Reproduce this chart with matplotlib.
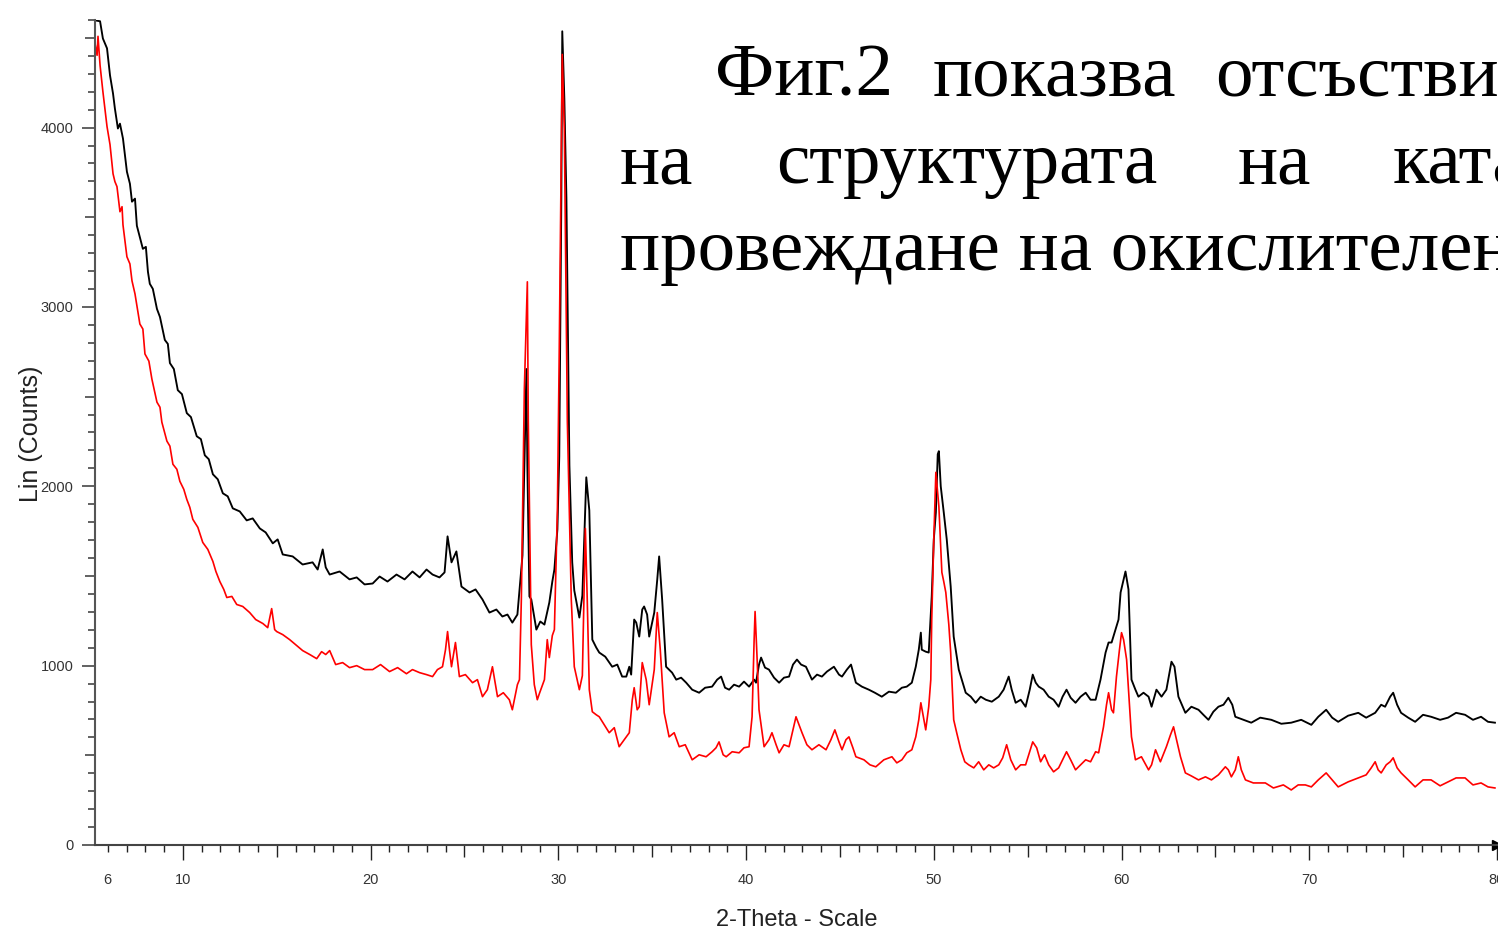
import matplotlib.pyplot as plt
import numpy as np

# Black pattern (2-Theta, counts)
black_x = [5.32, 5.59, 5.74, 5.96, 6.12, 6.28, 6.38, 6.54, 6.65, 6.81, 7.02, 7.18, 7.29, 7.45, 7.55,
           7.87, 8.03, 8.14, 8.24, 8.40, 8.62, 8.78, 9.04, 9.20, 9.31, 9.52, 9.73, 9.95, 10.21, 10.43,
           10.74, 10.96, 11.17, 11.38, 11.60, 11.86, 12.13, 12.39, 12.66, 13.03, 13.40, 13.72, 14.10,
           14.41, 14.79, 15.05, 15.32, 15.85, 16.38, 16.91, 17.18, 17.45, 17.61, 17.82, 18.35, 18.88,
           19.26, 19.68, 20.11, 20.48, 20.90, 21.38, 21.81, 22.23, 22.61, 22.98, 23.30, 23.67, 23.94,
           24.10, 24.31, 24.57, 24.84, 25.27, 25.59, 25.96, 26.33, 26.70, 27.02, 27.29, 27.55, 27.82,
           28.09, 28.24, 28.30, 28.35, 28.46, 28.56, 28.83, 29.04, 29.26, 29.52, 29.68, 29.79, 29.95,
           30.05, 30.16, 30.21, 30.32, 30.43, 30.59, 30.74, 30.85, 31.12, 31.28, 31.38, 31.49, 31.65,
           31.81, 32.02, 32.18, 32.50, 32.87, 33.14, 33.40, 33.62, 33.78, 33.88, 34.04, 34.15, 34.31,
           34.47, 34.57, 34.73, 34.84, 35.11, 35.27, 35.37, 35.53, 35.74, 36.06, 36.28, 36.54, 36.81,
           37.13, 37.50, 37.82, 38.19, 38.46, 38.67, 38.88, 39.10, 39.36, 39.63, 39.89, 40.16, 40.43,
           40.53, 40.69, 40.80, 41.01, 41.22, 41.49, 41.76, 42.02, 42.29, 42.50, 42.71, 42.93, 43.19,
           43.51, 43.78, 44.04, 44.31, 44.68, 44.95, 45.11, 45.37, 45.59, 45.85, 46.17, 46.54, 46.86,
           47.23, 47.61, 47.98, 48.30, 48.56, 48.83, 49.04, 49.20, 49.31, 49.36, 49.57, 49.73, 49.89,
           50.00, 50.11, 50.21, 50.27, 50.37, 50.53, 50.69, 50.90, 51.06, 51.33, 51.49, 51.70, 51.97,
           52.23, 52.50, 52.77, 53.09, 53.46, 53.72, 53.99, 54.15, 54.36, 54.63, 54.89, 55.11, 55.27,
           55.43, 55.59, 55.85, 56.12, 56.38, 56.65, 56.86, 57.07, 57.29, 57.55, 57.82, 58.09, 58.35,
           58.62, 58.88, 59.15, 59.31, 59.47, 59.68, 59.84, 59.95, 60.11, 60.21, 60.37, 60.53, 60.74,
           60.90, 61.17, 61.44, 61.60, 61.86, 62.13, 62.39, 62.66, 62.82, 63.03, 63.40, 63.72, 64.10,
           64.36, 64.63, 64.89, 65.16, 65.43, 65.69, 65.90, 66.06, 66.49, 66.91, 67.39, 67.98, 68.51,
           69.04, 69.57, 70.11, 70.48, 70.90, 71.22, 71.54, 72.07, 72.61, 73.03, 73.51, 73.83, 74.04,
           74.31, 74.47, 74.68, 74.89, 75.27, 75.64, 76.06, 76.49, 76.97, 77.39, 77.82, 78.30, 78.72,
           79.15, 79.52, 79.89]
black_y = [4598, 4593, 4497, 4442, 4291, 4190, 4106, 3995, 4022, 3939, 3754, 3687, 3587, 3604, 3453,
           3324, 3335, 3196, 3129, 3101, 2989, 2944, 2816, 2794, 2687, 2654, 2536, 2514, 2408, 2386,
           2279, 2263, 2173, 2151, 2067, 2039, 1961, 1944, 1877, 1860, 1810, 1821, 1765,
           1743, 1682, 1704, 1620, 1609, 1564, 1576, 1536, 1648, 1548, 1508, 1525, 1481,
           1492, 1453, 1458, 1497, 1469, 1508, 1481, 1525, 1492, 1536, 1508, 1492, 1520,
           1721, 1576, 1637, 1441, 1408, 1425, 1369, 1296, 1313, 1274, 1285, 1240, 1285,
           1615, 2363, 2654, 2117, 1386, 1369, 1201, 1246, 1229, 1352, 1469, 1536, 1760,
           2168, 3604, 4537, 4162, 3609, 2117, 1576, 1419, 1268, 1391, 1704, 2050, 1866,
           1145, 1101, 1073, 1050, 994, 1006, 939, 939, 994, 950, 1257, 1240, 1162,
           1313, 1330, 1285, 1162, 1296, 1481, 1609, 1369, 994, 961, 922, 933, 905,
           866, 849, 877, 883, 922, 939, 877, 866, 894, 883, 911, 883, 922,
           905, 1006, 1045, 989, 978, 933, 905, 933, 939, 1006, 1034, 1006, 994,
           922, 950, 939, 967, 994, 950, 939, 978, 1006, 905, 883, 866, 849,
           827, 855, 849, 877, 883, 905, 994, 1089, 1184, 1089, 1078, 1073, 1386,
           1704, 1855, 2179, 2196, 2000, 1855, 1704, 1441, 1162, 978, 922, 849, 827,
           793, 827, 810, 799, 827, 866, 939, 866, 793, 810, 771, 866, 950,
           905, 883, 866, 827, 810, 771, 827, 866, 821, 793, 827, 849, 810,
           810, 922, 1073, 1129, 1129, 1201, 1257, 1408, 1481, 1525, 1425, 922, 866,
           827, 849, 827, 771, 866, 827, 866, 1022, 994, 827, 737, 771, 754,
           726, 698, 743, 771, 782, 821, 782, 715, 698, 682, 710, 698, 676,
           682, 698, 670, 715, 754, 710, 687, 721, 737, 710, 737, 782, 771,
           827, 849, 782, 737, 710, 687, 726, 715, 698, 710, 737, 726, 698,
           715, 687, 682]

# Red pattern (2-Theta, counts)
red_x = [5.32, 5.43, 5.48, 5.59, 5.74, 5.96, 6.12, 6.28, 6.38, 6.49, 6.65, 6.76, 6.81, 7.02, 7.18,
         7.29, 7.45, 7.71, 7.87, 7.98, 8.19, 8.35, 8.62, 8.78, 8.88, 9.15, 9.31, 9.47, 9.68, 9.84,
         10.05, 10.21, 10.37, 10.53, 10.80, 11.06, 11.33, 11.60, 11.76, 11.97, 12.18, 12.34, 12.61,
         12.87, 13.19, 13.56, 13.88, 14.26, 14.52, 14.73, 14.89, 15.00, 15.32, 15.69, 16.01, 16.38,
         16.76, 17.13, 17.39, 17.61, 17.82, 18.14, 18.51, 18.88, 19.26, 19.68, 20.11, 20.53, 21.01,
         21.44, 21.91, 22.23, 22.61, 22.98, 23.30, 23.56, 23.83, 23.99, 24.10, 24.20, 24.31, 24.52,
         24.73, 25.05, 25.43, 25.69, 25.96, 26.22, 26.49, 26.76, 27.07, 27.39, 27.55, 27.82, 27.93,
         28.03, 28.19, 28.35, 28.40, 28.56, 28.72, 28.88, 28.99, 29.26, 29.41, 29.52, 29.68, 29.79,
         29.95, 30.05, 30.16, 30.21, 30.32, 30.48, 30.69, 30.85, 31.12, 31.28, 31.44, 31.54, 31.65,
         31.81, 32.02, 32.18, 32.45, 32.71, 32.98, 33.24, 33.51, 33.78, 33.94, 34.04, 34.20, 34.31,
         34.47, 34.68, 34.84, 35.11, 35.27, 35.43, 35.64, 35.90, 36.17, 36.44, 36.76, 37.13, 37.50,
         37.87, 38.19, 38.40, 38.56, 38.78, 38.94, 39.26, 39.63, 39.89, 40.16, 40.32, 40.43, 40.48,
         40.59, 40.69, 40.96, 41.22, 41.38, 41.60, 41.76, 42.02, 42.29, 42.50, 42.66, 42.82, 42.98,
         43.24, 43.51, 43.88, 44.26, 44.52, 44.73, 44.95, 45.11, 45.32, 45.48, 45.69, 45.85, 46.28,
         46.60, 46.91, 47.34, 47.77, 48.03, 48.30, 48.56, 48.83, 49.04, 49.20, 49.31, 49.47, 49.57,
         49.73, 49.84, 49.89, 50.00, 50.11, 50.27, 50.43, 50.53, 50.64, 50.80, 50.90, 51.06, 51.22,
         51.44, 51.65, 51.86, 52.13, 52.39, 52.66, 52.93, 53.19, 53.46, 53.67, 53.88, 54.10, 54.36,
         54.63, 54.89, 55.11, 55.27, 55.48, 55.69, 55.90, 56.12, 56.38, 56.65, 56.86, 57.07, 57.29,
         57.55, 57.82, 58.09, 58.35, 58.62, 58.78, 59.04, 59.20, 59.31, 59.47, 59.57, 59.73, 59.89,
         60.00, 60.11, 60.27, 60.37, 60.53, 60.74, 61.06, 61.44, 61.60, 61.81, 62.07, 62.39, 62.61,
         62.77, 62.93, 63.14, 63.40, 63.72, 64.10, 64.47, 64.79, 65.16, 65.53, 65.69, 65.85, 66.06,
         66.22, 66.38, 66.60, 67.02, 67.66, 68.09, 68.62, 69.04, 69.41, 69.79, 70.11, 70.48, 70.90,
         71.22, 71.54, 72.07, 72.61, 73.03, 73.30, 73.51, 73.67, 73.83, 74.10, 74.31, 74.47, 74.68,
         74.89, 75.27, 75.64, 76.06, 76.49, 76.97, 77.39, 77.82, 78.30, 78.72, 79.15, 79.52, 79.89]
red_y = [4470, 4403, 4509, 4347, 4201, 4006, 3905, 3743, 3699, 3671, 3531, 3559, 3458, 3280, 3240,
         3146, 3073, 2905, 2877, 2738, 2698, 2598, 2469, 2441, 2358, 2252, 2224, 2123, 2095, 2028,
         1983, 1927, 1883, 1816, 1771, 1687, 1648, 1581, 1525, 1469, 1425, 1380, 1386,
         1341, 1330, 1296, 1257, 1235, 1212, 1318, 1201, 1190, 1173, 1145, 1117, 1084,
         1062, 1039, 1078, 1062, 1084, 1006, 1017, 989, 1000, 978, 978, 1006, 967,
         989, 955, 978, 961, 950, 939, 978, 994, 1089, 1190, 1089, 994, 1129,
         939, 950, 905, 922, 827, 866, 994, 827, 849, 810, 754, 894, 922,
         1369, 2542, 3140, 2363, 1117, 894, 810, 844, 922, 1145, 1045, 1168, 1201,
         1866, 2766, 3861, 4408, 3983, 2363, 1369, 994, 866, 944, 1765, 1369, 866,
         743, 726, 715, 670, 626, 654, 548, 587, 626, 810, 877, 754, 771,
         1017, 922, 782, 978, 1296, 1089, 737, 603, 626, 548, 559, 475, 503,
         492, 520, 542, 575, 503, 492, 520, 514, 542, 548, 715, 1145, 1302,
         1034, 754, 548, 587, 626, 559, 514, 559, 548, 642, 715, 670, 626,
         559, 531, 559, 531, 587, 642, 575, 531, 587, 603, 542, 492, 475,
         447, 436, 475, 492, 458, 475, 514, 531, 603, 698, 793, 698, 642,
         771, 922, 1257, 1704, 2078, 1888, 1520, 1469, 1408, 1229, 1073, 698, 626,
         531, 464, 447, 430, 464, 419, 447, 430, 447, 486, 559, 475, 419,
         447, 447, 520, 575, 542, 464, 503, 447, 408, 430, 475, 520, 475,
         419, 447, 475, 464, 520, 514, 659, 782, 849, 754, 737, 939, 1089,
         1184, 1145, 1034, 866, 603, 475, 492, 419, 447, 531, 464, 548, 615,
         659, 587, 492, 402, 385, 363, 380, 363, 391, 436, 419, 380, 419,
         492, 419, 363, 346, 346, 318, 335, 307, 335, 335, 324, 363, 402,
         363, 324, 352, 374, 391, 430, 464, 419, 402, 447, 464, 486, 430,
         402, 363, 324, 363, 363, 330, 352, 374, 374, 335, 346, 324, 318]

x_labels = {6: "6", 10: "10", 20: "20", 30: "30", 40: "40", 50: "50", 60: "60", 70: "70", 80: "80"}
y_labels = [0, 1000, 2000, 3000, 4000]

W, H = 1498, 932
fig = plt.figure(figsize=(W / 100, H / 100), dpi=100)
ax = fig.add_axes([95 / W, 87 / H, 1402 / W, 825 / H])

ax.plot(black_x, black_y, color="black", linewidth=1.35)
ax.plot(red_x, red_y, color="#ff0000", linewidth=1.2)

ax.set_xlim(5.32, 80)
ax.set_ylim(0, 4600)

for side in ["top", "right"]:
    ax.spines[side].set_visible(False)
ax.spines["left"].set_color("#555555")
ax.spines["bottom"].set_color("#444444")
ax.spines["left"].set_linewidth(1.5)
ax.spines["bottom"].set_linewidth(1.5)

# x ticks: every degree, longer every 5 and 10
xt = np.arange(6, 81)
ax.set_xticks(xt)
ax.set_xticklabels([x_labels.get(int(v), "") for v in xt])
ax.tick_params(axis="x", direction="out", length=5, width=1.0, color="#222222",
               pad=15, labelsize=10.5, labelcolor="#333333")
for v, t in zip(xt, ax.xaxis.get_major_ticks()):
    if v % 10 == 0:
        t.tick1line.set_markersize(10.8)
    elif v % 5 == 0:
        t.tick1line.set_markersize(8.5)

# y ticks: every 100, longer every 500 and 1000
yt = np.arange(0, 4601, 100)
ax.set_yticks(yt)
ax.set_yticklabels([str(int(v)) if v in y_labels else "" for v in yt])
ax.tick_params(axis="y", direction="out", length=9.4, width=1.3, color="#555555",
               pad=6.0, labelsize=10.5, labelcolor="#333333")
for v, t in zip(yt, ax.yaxis.get_major_ticks()):
    if v % 1000 == 0:
        t.tick1line.set_markersize(9.4)
    elif v % 500 == 0:
        t.tick1line.set_markersize(7.2)
    else:
        t.tick1line.set_markersize(5)

for lab in ax.get_xticklabels() + ax.get_yticklabels():
    lab.set_family("Liberation Sans")

# arrow head at end of x axis
ax.plot([80], [0], marker=">", color="black", markersize=7, clip_on=False)

fig.text(797 / W, 1 - 920 / H, "2-Theta - Scale", fontsize=17, family="Liberation Sans",
         color="#222222", ha="center", va="center")
fig.text(31 / W, 1 - 434 / H, "Lin (Counts)", fontsize=18, family="Liberation Sans",
         color="#222222", ha="center", va="center", rotation=90)

# overlaid document text (justified lines, cut at the right edge)
words = [
    (715, 95, "Фиг.2"), (933, 95, "показва"), (1215, 95, "отсъствие"),
    (620, 183, "на"), (776, 183, "структурата"), (1238, 183, "на"), (1393, 183, "катализатора"),
    (620, 270, "провеждане на окислителен"),
]
for px, py, w in words:
    fig.text(px / W, 1 - py / H, w, fontsize=54, family="Liberation Serif",
             ha="left", va="baseline", color="black")

plt.savefig("out.png", dpi=100)
